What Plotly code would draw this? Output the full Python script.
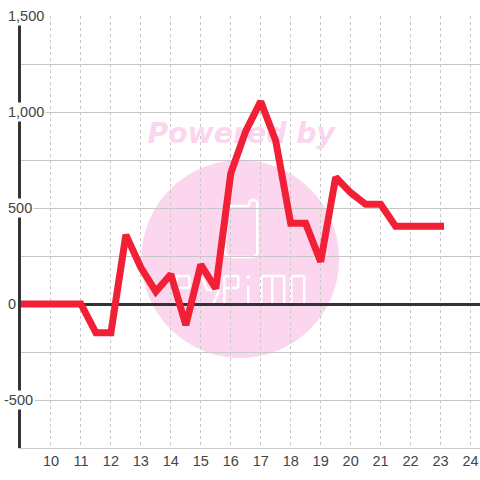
import plotly.graph_objects as go

hours = [9, 9.5, 10, 10.5, 11, 11.5, 12, 12.5, 13, 13.5, 14, 14.5, 15, 15.5, 16, 16.5, 17, 17.5, 18, 18.5, 19, 19.5, 20, 20.5, 21, 21.5, 22, 22.5, 23]
values = [0, 0, 0, 0, 0, -150, -150, 360, 190, 65, 155, -110, 205, 80, 680, 900, 1055, 850, 420, 420, 220, 660, 580, 520, 520, 405, 405, 405, 405]
x_ticks = list(range(10, 25))
y_grid = list(range(-750, 1501, 250))
y_labels = [1500, 1000, 500, 0, -500]
y_texts = ["1,500", "1,000", "500", "0", "-500"]

W, H = 480, 480
L, R, T, B = 20.5, 0, 16, 32
px = lambda v: (v - L) / (W - L - R)
py = lambda v: 1 - (v - T) / (H - T - B)
PINK = "#fcd6ee"

logo_strokes = [
    [(225, 206), (249, 206), (249, 202), (251, 200), (255, 200), (257, 202), (257, 254), (254, 257), (228, 257), (225, 254), (225, 206)],
    [(176, 305), (176, 276), (189, 276), (189, 288), (176, 288)],
    [(201, 276), (207, 290), (219, 290), (213, 304)],
    [(224, 305), (224, 276), (238, 276), (238, 288), (224, 288)],
    [(248, 286), (248, 304)],
    [(261, 304), (261, 276), (272, 276), (272, 304)],
    [(272, 276), (284, 276), (284, 304)],
    [(291, 276), (304, 276), (304, 304), (291, 304), (291, 276)],
]

shapes = [dict(type="circle", xref="paper", yref="paper", layer="below", line_width=0, fillcolor=PINK,
               x0=px(141), x1=px(339), y0=py(358), y1=py(160))]
shapes.append(dict(type="circle", xref="paper", yref="paper", layer="below", line_width=0, fillcolor="white",
                   x0=px(246), x1=px(250), y0=py(279), y1=py(275)))
for pts in logo_strokes:
    for (a0, b0), (a1, b1) in zip(pts, pts[1:]):
        shapes.append(dict(type="line", xref="paper", yref="paper", layer="below",
                           x0=px(a0), y0=py(b0), x1=px(a1), y1=py(b1), line=dict(color="white", width=2.5)))

annotations = []
for v, t in zip(y_labels, y_texts):
    annotations.append(dict(text=t, xref="paper", yref="y", x=px(1 if v < 0 else 5.5), y=v, showarrow=False, xanchor="left",
                            yanchor="middle", bgcolor="white", borderpad=1,
                            font=dict(family="Liberation Sans", size=14.5, color="#444")))

fig = go.Figure()
fig.add_trace(go.Scatter(x=[16.35], y=[875], mode="text", text=["<b><i>Powered by</i></b>"], textposition="middle center",
                         textfont=dict(family="DejaVu Sans", size=28.3, color=PINK), cliponaxis=False, hoverinfo="skip"))
fig.add_trace(go.Scatter(x=hours, y=values, mode="lines", cliponaxis=False,
                         line=dict(color="#f22036", width=7)))
fig.update_layout(width=W, height=H, autosize=False, margin=dict(l=L, r=R, t=T, b=B), paper_bgcolor="white",
                  plot_bgcolor="rgba(0,0,0,0)", showlegend=False, shapes=shapes, annotations=annotations)
fig.update_xaxes(range=[9, 24.317], tickvals=x_ticks, showgrid=True, griddash="dot", gridcolor="#c8c8c8", gridwidth=1,
                 zeroline=False, showline=True, linecolor="#ccc", linewidth=1, ticks="",
                 tickfont=dict(family="Liberation Sans", size=14.5, color="#444"))
fig.update_yaxes(range=[-750, 1500], tickvals=y_grid, showticklabels=False, showgrid=True, gridcolor="#c8c8c8", gridwidth=1,
                 zeroline=True, zerolinecolor="#333", zerolinewidth=3, showline=True, linecolor="#333", linewidth=3, ticks="")
fig.write_html("out.html", config=dict(displayModeBar=False),
               post_script="document.querySelectorAll('.js-line').forEach(e=>{e.style.strokeLinecap='square';e.style.strokeLinejoin='miter';});"
                           "document.body.style.margin='0';")
